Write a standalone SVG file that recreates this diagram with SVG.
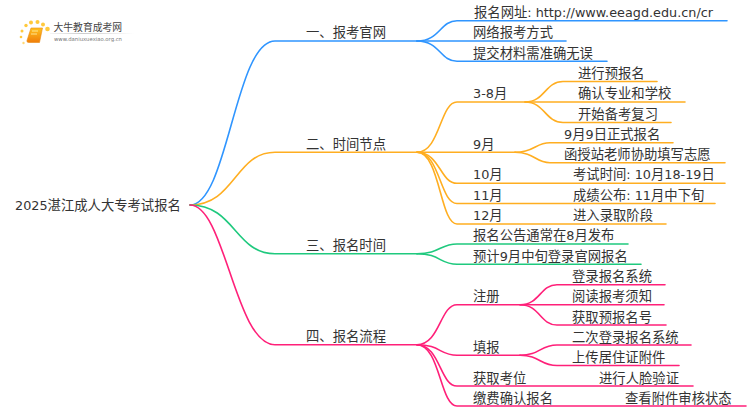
<svg xmlns="http://www.w3.org/2000/svg" width="750" height="410" viewBox="0 0 750 410">
<style>
text{font-family:"DejaVu Sans","Noto Sans CJK SC",sans-serif;font-size:13.33px;fill:#333}
.l{font-size:12.8px}
.c path{fill:none;stroke-width:1.6;stroke-linecap:round}
.b path{stroke:#2f95ff}.o path{stroke:#ffae21}.g path{stroke:#1fc97e}.p path{stroke:#ff2079}
</style>
<defs>
<linearGradient id="bk" x1="0" y1="0" x2="0" y2="1"><stop offset="0" stop-color="#ffc21f"/><stop offset="1" stop-color="#f07d0a"/></linearGradient>
<linearGradient id="ln" x1="0" y1="0" x2="1" y2="0"><stop offset="0" stop-color="#ccc" stop-opacity=".2"/><stop offset=".4" stop-color="#ccc"/><stop offset="1" stop-color="#ccc" stop-opacity="0"/></linearGradient>
</defs>
<rect width="750" height="410" fill="#fff"/>
<g id="logo">
<g fill="#ffc93c"><circle cx="22" cy="31" r="1.5"/><circle cx="23.500" cy="43" r="1.2" opacity=".7"/><circle cx="21" cy="37" r="1.3"/><circle cx="26" cy="25.500" r="1.700"/><circle cx="31" cy="22.500" r="2"/><circle cx="37.500" cy="22" r="2"/><circle cx="43" cy="24.500" r="2"/><circle cx="47.500" cy="29" r="2.300"/></g>
<path d="M31 28h11.500l-3 14.500H28.500q-2 0-1.500-2z" fill="url(#bk)" stroke="#e98a10" stroke-width=".6"/>
<path d="M32 31h6M31 34h6" stroke="#fff2b0" stroke-width=".8"/>
<text x="53.500" y="31" style="font-size:9.800px;fill:#444">大牛教育成考网</text>
<rect x="50" y="33" width="84" height="1" fill="url(#ln)"/>
<text x="54" y="41" style="font-size:5.300px;fill:#777">www.daniuxuexiao.org.cn</text>
</g>
<g id="connectors" class="c">
<g class="b">
<path d="M190 205C228 205 235 41 275 41H417"/>
<path d="M417 41C440 41 440 20.700 457 20.700H727"/>
<path d="M417 41H566"/>
<path d="M417 41C440 41 440 61.300 457 61.300H607"/>
</g>
<g class="o">
<path d="M190 205C235 205 235 152.300 275 152.300H417"/>
<path d="M417 152.300C440 152.300 440 102 457 102H685"/>
<path d="M417 152.300H515"/>
<path d="M417 152.300C440 152.300 440 183.300 457 183.300H725"/>
<path d="M417 152.300C440 152.300 440 203.500 457 203.500H715"/>
<path d="M417 152.300C440 152.300 440 224 457 224H666"/>
<path d="M525 102C545 102 545 81.500 563 81.500H657"/>
<path d="M525 102C545 102 545 122.500 563 122.500H671"/>
<path d="M515 152.300C535 152.300 535 142.700 550 142.700H673"/>
<path d="M515 152.300C535 152.300 535 162.700 550 162.700H725"/>
</g>
<g class="g">
<path d="M190 205C235 205 235 253.700 275 253.700H417"/>
<path d="M417 253.700C440 253.700 440 244 457 244H628"/>
<path d="M417 253.700C440 253.700 440 264.300 457 264.300H641"/>
</g>
<g class="p">
<path d="M190 205C225 205 235 344.700 275 344.700H417"/>
<path d="M417 344.700C440 344.700 440 304.700 457 304.700H664"/>
<path d="M417 344.700C440 344.700 440 355.300 457 355.300H520"/>
<path d="M417 344.700C440 344.700 440 386 457 386H693"/>
<path d="M417 344.700C440 344.700 440 406 457 406H746"/>
<path d="M520 304.700C540 304.700 540 284.700 557 284.700H665"/>
<path d="M520 304.700C540 304.700 540 325 557 325H666"/>
<path d="M520 355.300C540 355.300 540 345 557 345H691"/>
<path d="M520 355.300C540 355.300 540 365.500 557 365.500H679"/>
</g>
</g>
<g id="root"><text x="15" y="210"><tspan class="l">2025</tspan>湛江成人大专考试报名</text></g>
<g id="n1"><text x="306" y="37">一、报考官网</text></g>
<g id="n1-1"><text x="474" y="17">报名网址<tspan class="l">: http://www.eeagd.edu.cn/cr</tspan></text></g>
<g id="n1-2"><text x="473" y="37">网络报考方式</text></g>
<g id="n1-3"><text x="473" y="58">提交材料需准确无误</text></g>
<g id="n2"><text x="306" y="149">二、时间节点</text></g>
<g id="n2-1"><text x="473" y="98"><tspan class="l">3-8</tspan>月</text></g>
<g id="n2-1-1"><text x="578" y="78">进行预报名</text></g>
<g id="n2-1-2"><text x="578" y="98">确认专业和学校</text></g>
<g id="n2-1-3"><text x="578" y="119">开始备考复习</text></g>
<g id="n2-2"><text x="473" y="149"><tspan class="l">9</tspan>月</text></g>
<g id="n2-2-1"><text x="564" y="139"><tspan class="l">9</tspan>月<tspan class="l">9</tspan>日正式报名</text></g>
<g id="n2-2-2"><text x="564" y="159">函授站老师协助填写志愿</text></g>
<g id="n2-3"><text x="473" y="179"><tspan class="l">10</tspan>月</text></g>
<g id="n2-3-1"><text x="573" y="179">考试时间<tspan class="l">: 10</tspan>月<tspan class="l">18-19</tspan>日</text></g>
<g id="n2-4"><text x="473" y="200"><tspan class="l">11</tspan>月</text></g>
<g id="n2-4-1"><text x="573" y="200">成绩公布<tspan class="l">: 11</tspan>月中下旬</text></g>
<g id="n2-5"><text x="473" y="220"><tspan class="l">12</tspan>月</text></g>
<g id="n2-5-1"><text x="573" y="220">进入录取阶段</text></g>
<g id="n3"><text x="306" y="250">三、报名时间</text></g>
<g id="n3-1"><text x="473" y="240">报名公告通常在<tspan class="l">8</tspan>月发布</text></g>
<g id="n3-2"><text x="473" y="261">预计<tspan class="l">9</tspan>月中旬登录官网报名</text></g>
<g id="n4"><text x="306" y="341">四、报名流程</text></g>
<g id="n4-1"><text x="473" y="301">注册</text></g>
<g id="n4-1-1"><text x="572" y="281">登录报名系统</text></g>
<g id="n4-1-2"><text x="572" y="301">阅读报考须知</text></g>
<g id="n4-1-3"><text x="572" y="322">获取预报名号</text></g>
<g id="n4-2"><text x="473" y="352">填报</text></g>
<g id="n4-2-1"><text x="572" y="342">二次登录报名系统</text></g>
<g id="n4-2-2"><text x="572" y="362">上传居住证附件</text></g>
<g id="n4-3"><text x="473" y="383">获取考位</text></g>
<g id="n4-3-1"><text x="599" y="383">进行人脸验证</text></g>
<g id="n4-4"><text x="473" y="403">缴费确认报名</text></g>
<g id="n4-4-1"><text x="625" y="403">查看附件审核状态</text></g>
</svg>
